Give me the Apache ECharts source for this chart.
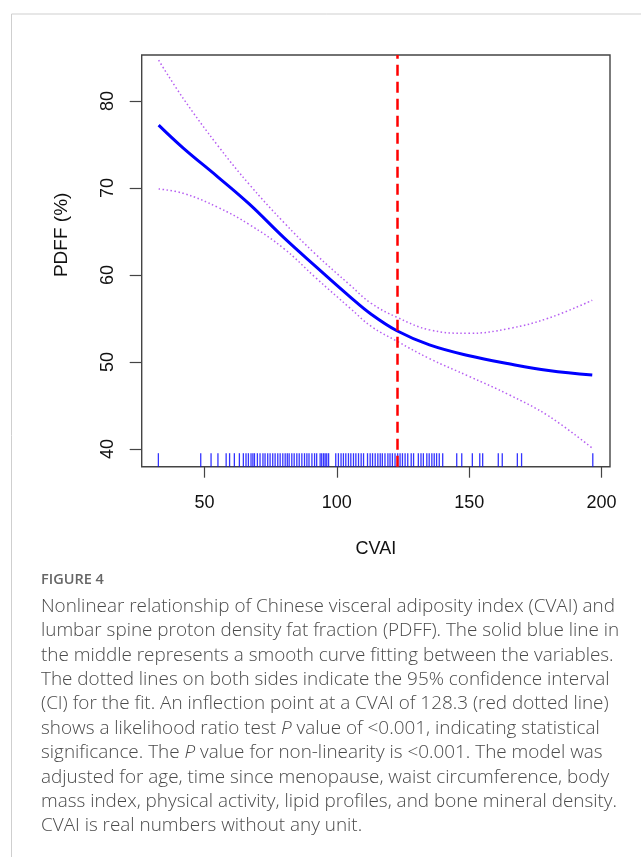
<!DOCTYPE html>
<html>
<head>
<meta charset="utf-8">
<script src="https://cdn.jsdelivr.net/npm/echarts@6/dist/echarts.min.js"></script>
<style>
  html, body { margin: 0; padding: 0; background: #fff; }
  #chart { width: 641px; height: 857px; }
</style>
</head>
<body>
<div id="chart"></div>
<script>
// smooth fit and 95% CI
const cvai = [32.7, 42, 55, 67, 80, 92, 105, 113, 122.7, 135, 150, 165, 180, 196.5];
const pdffFit = [77.24, 74.6, 71.3, 68.15, 64.3, 61.0, 57.5, 55.5, 53.6, 51.97, 50.72, 49.8, 49.03, 48.5];
const pdffUpper = [84.7, 80.3, 74.9, 70.4, 66.05, 62.4, 58.85, 56.75, 55.15, 53.7, 53.3, 53.85, 55.05, 57.1];
const pdffLower = [69.9, 69.4, 67.8, 65.8, 63.05, 59.7, 56.2, 54.1, 52.4, 50.4, 48.35, 46.25, 43.8, 40.1];

// rug of observed CVAI values
const rugValues = [32.6, 48.6, 52.5, 55.1, 58.2, 59.5, 61.3, 63.2, 64.7, 65.7, 66.6, 67.6, 68.3, 68.9,
  70.0, 71.0, 72.1, 72.9, 73.9, 74.8, 75.8, 76.7, 77.7, 78.6, 79.6, 80.5, 81.3, 82.0, 83.0, 83.9,
  84.9, 85.8, 86.8, 87.8, 88.7, 89.5, 90.6, 91.6, 92.4, 93.7, 94.3, 95.0, 95.6, 96.2, 96.9, 99.6,
  100.6, 101.6, 102.5, 103.4, 104.4, 105.3, 106.3, 107.2, 108.2, 109.2, 110.1, 111.6, 112.6, 113.5,
  114.5, 115.5, 116.4, 117.2, 118.2, 119.3, 120.1, 121.0, 122.0, 123.0, 123.9, 124.8, 125.8, 126.8,
  128.1, 129.0, 130.8, 131.8, 132.7, 134.0, 134.9, 135.9, 136.8, 137.7, 138.7, 140.0, 145.3, 147.2,
  151.2, 154.0, 155.1, 161.0, 162.5, 168.2, 169.8, 196.7];

const inflection = 122.7;
const xTicks = [50, 100, 150, 200];
const yTicks = [40, 50, 60, 70, 80];

const captionTitle = 'FIGURE 4';
const captionLines = [
  'Nonlinear relationship of Chinese visceral adiposity index (CVAI) and',
  'lumbar spine proton density fat fraction (PDFF). The solid blue line in',
  'the middle represents a smooth curve fitting between the variables.',
  'The dotted lines on both sides indicate the 95% confidence interval',
  '(CI) for the fit. An inflection point at a CVAI of 128.3 (red dotted line)',
  'shows a likelihood ratio test {i|P} value of <0.001, indicating statistical',
  'significance. The {i|P} value for non-linearity is <0.001. The model was',
  'adjusted for age, time since menopause, waist circumference, body',
  'mass index, physical activity, lipid profiles, and bone mineral density.',
  'CVAI is real numbers without any unit.'
];

const zip = (xs, ys) => xs.map((x, i) => [x, ys[i]]);
const axisFont = 'Liberation Sans, Arial, sans-serif';
const capFont = '"Open Sans", sans-serif';

const chart = echarts.init(document.getElementById('chart'), null, { renderer: 'canvas' });

const graphics = [
  { type: 'line', shape: { x1: 11.5, y1: 14, x2: 641, y2: 14 }, style: { stroke: '#cfcfcf', lineWidth: 1 } },
  { type: 'line', shape: { x1: 11.5, y1: 14, x2: 11.5, y2: 857 }, style: { stroke: '#cfcfcf', lineWidth: 1 } },
  {
    type: 'text', left: 41, top: 572,
    style: { text: captionTitle, font: '600 14.5px ' + capFont, fill: '#666' }
  }
];
captionLines.forEach((t, i) => {
  graphics.push({
    type: 'text', left: 41, top: 597 + i * 24.4,
    style: {
      text: t, font: '300 18.9px ' + capFont, fill: '#4a4a4a',
      rich: { i: { font: 'italic 300 18.9px ' + capFont, fill: '#4a4a4a' } }
    }
  });
});

const option = {
  animation: false,
  backgroundColor: '#fff',
  grid: {
    left: 141.7, top: 55, width: 468.3, height: 411.7,
    show: true, borderColor: '#444', borderWidth: 1.4, backgroundColor: 'transparent'
  },
  xAxis: {
    type: 'value', min: 26.3, max: 203.2,
    name: 'CVAI', nameLocation: 'middle', nameGap: 73,
    nameTextStyle: { fontFamily: axisFont, fontSize: 18, color: '#111' },
    axisLine: { show: false },
    splitLine: { show: false },
    axisTick: { show: true, length: 11, lineStyle: { color: '#444', width: 1.2 }, customValues: xTicks },
    axisLabel: { margin: 27, fontFamily: axisFont, fontSize: 18, color: '#111', customValues: xTicks }
  },
  yAxis: {
    type: 'value', min: 37.97, max: 85.3,
    name: 'PDFF (%)', nameLocation: 'middle', nameGap: 70, nameRotate: 90,
    nameTextStyle: { fontFamily: axisFont, fontSize: 19, color: '#111', padding: [0, 0, 0, 52] },
    axisLine: { show: false },
    splitLine: { show: false },
    axisTick: { show: true, length: 12, lineStyle: { color: '#444', width: 1.2 }, customValues: yTicks },
    axisLabel: { margin: 25, rotate: 90, fontFamily: axisFont, fontSize: 18, color: '#111', customValues: yTicks }
  },
  graphic: graphics,
  series: [
    {
      type: 'custom',
      name: 'rug',
      silent: true,
      data: rugValues.map(v => [v]),
      renderItem: (params, api) => {
        const p = api.coord([api.value(0), 37.97]);
        return {
          type: 'line',
          shape: { x1: p[0], y1: p[1], x2: p[0], y2: p[1] - 13.5 },
          style: { stroke: 'rgba(0,0,255,0.8)', lineWidth: 1.3 }
        };
      },
      encode: { x: 0 }
    },
    {
      type: 'line', name: 'upper', data: zip(cvai, pdffUpper), smooth: 0.4, symbol: 'none',
      lineStyle: { color: '#b65ef2', width: 1.5, type: [1.5, 2.5] }
    },
    {
      type: 'line', name: 'lower', data: zip(cvai, pdffLower), smooth: 0.4, symbol: 'none',
      lineStyle: { color: '#b65ef2', width: 1.5, type: [1.5, 2.5] }
    },
    {
      type: 'line', name: 'fit', data: zip(cvai, pdffFit), smooth: 0.4, symbol: 'none',
      lineStyle: { color: '#0000ff', width: 3 },
      z: 3,
      markLine: {
        silent: true, symbol: ['none', 'none'], label: { show: false },
        lineStyle: { color: '#ff0000', width: 2.5, type: [11, 6] },
        data: [{ xAxis: inflection }]
      }
    }
  ]
};

chart.setOption(option);
window.addEventListener('resize', chart.resize);
</script>
</body>
</html>
